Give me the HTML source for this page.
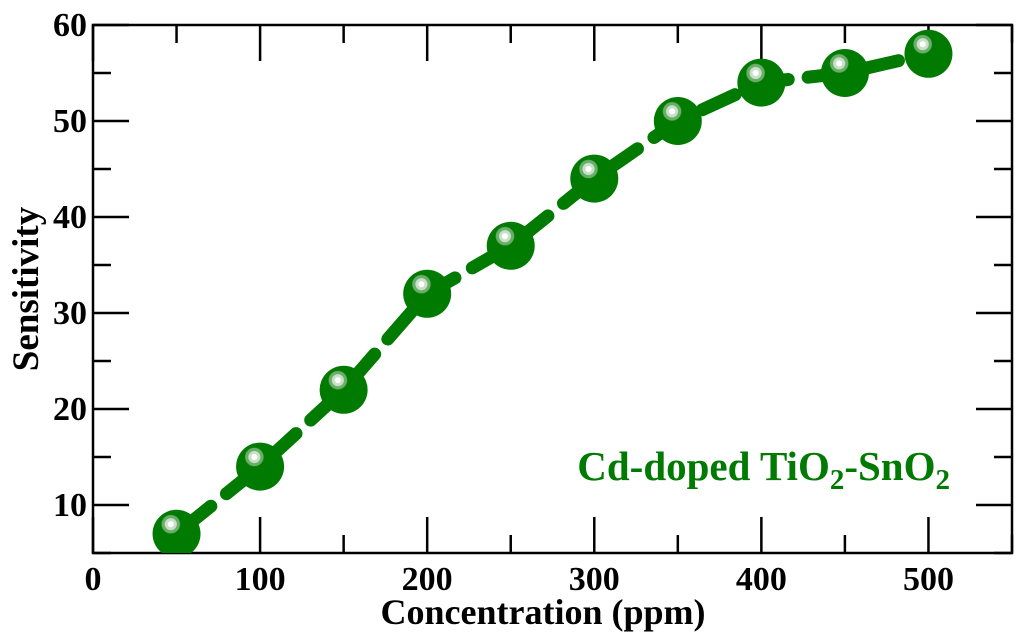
<!DOCTYPE html>
<html><head><meta charset="utf-8"><style>
html,body{margin:0;padding:0;background:#fff;}
svg{display:block;font-family:"Liberation Serif",serif;font-weight:bold;}
</style></head><body>
<svg id="chart" width="1024" height="643">
<defs>
<radialGradient id="ball" cx="0.38" cy="0.3" r="0.7">
<stop offset="0" stop-color="#ffffff"/>
<stop offset="0.08" stop-color="#ffffff"/>
<stop offset="0.1" stop-color="#c8e0c8"/>
<stop offset="0.17" stop-color="#c8e0c8"/>
<stop offset="0.19" stop-color="#6aae6a"/>
<stop offset="0.26" stop-color="#6aae6a"/>
<stop offset="0.29" stop-color="#007a00"/>
<stop offset="1" stop-color="#007a00"/>
</radialGradient>
<clipPath id="plotclip"><rect x="93" y="25" width="919" height="528"/></clipPath>
</defs>
<g id="axes"></g>
<g id="series" clip-path="url(#plotclip)"></g>
<text x="543" y="624" text-anchor="middle" font-size="36">Concentration (ppm)</text>
<text transform="translate(38,289) rotate(-90)" text-anchor="middle" font-size="37">Sensitivity</text>
<text x="950" y="480" text-anchor="end" font-size="41" fill="#007a00">Cd-doped TiO<tspan font-size="29" dy="9">2</tspan><tspan dy="-9">-SnO</tspan><tspan font-size="29" dy="9">2</tspan></text>
</svg>
<script>
const xValues=[50,100,150,200,250,300,350,400,450,500];
const yValues=[7,14,22,32,37,44,50,54,55,57];
const xTicks=[0,100,200,300,400,500];
const yTicks=[10,20,30,40,50,60];
const L=93,R=1012,T=25,B=553,X0=0,X1=550,Y0=5,Y1=60;
const sx=v=>L+(v-X0)/(X1-X0)*(R-L);
const sy=v=>B-(v-Y0)/(Y1-Y0)*(B-T);
const NS="http://www.w3.org/2000/svg";
function mk(tag,attrs,parent){const e=document.createElementNS(NS,tag);for(const k in attrs)e.setAttribute(k,attrs[k]);parent.appendChild(e);return e;}
const ax=document.getElementById('axes');
const frame=mk('rect',{x:L,y:T,width:R-L,height:B-T,fill:'none',stroke:'#000','stroke-width':2.5},ax);


for(let v=0;v<=550;v+=50){const x=sx(v);const len=v%100===0?18:9;
const t1=mk('line',{x1:x,y1:B,x2:x,y2:B-len*2,stroke:'#000','stroke-width':2.5},ax);


const t2=mk('line',{x1:x,y1:T,x2:x,y2:T+len*2,stroke:'#000','stroke-width':2.5},ax);

}
for(let v=5;v<=60;v+=5){const y=sy(v);const len=v%10===0?36:18;
const t1=mk('line',{x1:L,y1:y,x2:L+len,y2:y,stroke:'#000','stroke-width':2.5},ax);


const t2=mk('line',{x1:R,y1:y,x2:R-len,y2:y,stroke:'#000','stroke-width':2.5},ax);

}
xTicks.forEach(v=>{const t=mk('text',{x:sx(v),y:590,'text-anchor':'middle','font-size':34},ax);t.textContent=v;

});
yTicks.forEach(v=>{const t=mk('text',{x:87,y:sy(v)+11,'text-anchor':'end','font-size':34},ax);t.textContent=v;

});
const g=document.getElementById('series');
const pts=xValues.map((x,i)=>sx(x)+','+sy(yValues[i])).join(' ');
const line=mk('polyline',{points:pts,fill:'none',stroke:'#007a00','stroke-width':13,'stroke-linecap':'round','stroke-dasharray':'36 20','stroke-dashoffset':'-8'},g);


xValues.forEach((x,i)=>{const c=mk('circle',{cx:sx(x),cy:sy(yValues[i]),r:24,fill:'url(#ball)'},g);

});
</script>
</body></html>
